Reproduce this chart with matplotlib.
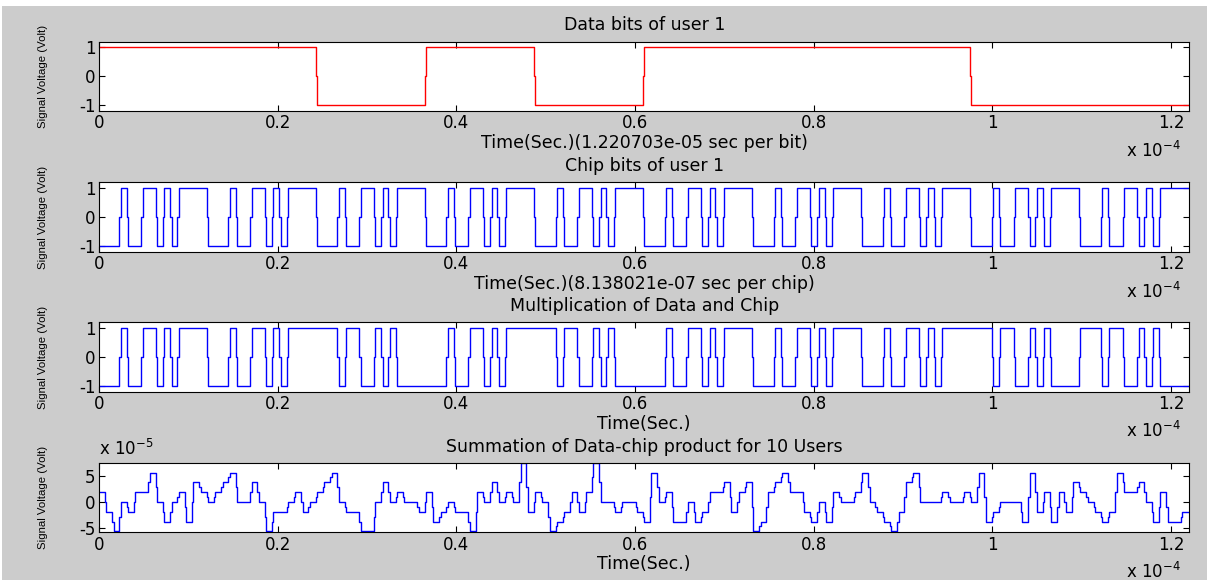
import numpy as np
import matplotlib.pyplot as plt
from matplotlib.patches import Rectangle
from matplotlib.ticker import FuncFormatter

plt.rcParams['font.family'] = ['DejaVu Sans']
plt.rcParams['mathtext.fontset'] = 'dejavusans'
plt.rcParams['axes.unicode_minus'] = False

# signal parameters
bit_time = 1.220703e-05
chip_time = 8.138021e-07
n_users = 10

data_bits = [1, 1, -1, 1, -1, 1, 1, 1, -1, -1]
pn_code = [-1, -1, -1, 1, -1, -1, 1, 1, -1, 1, -1, 1, 1, 1, 1]

# summed signal of all users, read per chip (units of sum_step)
sum_levels = [1, -1, -3, 0, -1, 1, 1, 3, 0, -2, 0, 1, -2, 2, 1, 0, 1, 2, 3, 0, 0, 2, 0, -3, -1,
              -1, 0, 1, -1, 0, 1, 2, 3, 0, -1, -1, -3, -3, 0, 2, 0, 1, 0, 0, -1, 1, -2, -1, 0, -1,
              -1, -3, 1, 0, 2, 0, 1, 0, 4, -1, 1, 0, -3, -2, -1, 1, -1, 1, 4, 0, 0, -1, 0, 0, -1,
              -2, 3, 0, 1, -2, -2, 0, -2, -1, 1, 1, 2, -1, 1, 2, -3, -2, 1, 2, 3, 1, 1, -1, -2, 0,
              -2, 1, 0, 0, 1, 3, 0, -1, -2, -3, -1, 2, 3, 0, 0, 0, 1, 0, 0, 1, 0, 3, -2, -1, 0,
              0, 0, -2, 3, -1, 1, -2, 1, -1, 2, 1, 0, -1, -2, -1, 3, 1, 1, 2, 0, -2, 1, -2, -2, -1]
sum_step = 1.9e-5

chips_per_bit = len(pn_code)
chips = np.tile(pn_code, len(data_bits))
product = chips * np.repeat(data_bits, chips_per_bit)
summation = np.array(sum_levels) * sum_step
t_end = len(data_bits) * bit_time


def stair(values, dt, jog=0.2 * chip_time):
    # step trace with a short mid-level sample at every change (as in the original plot)
    t, y = [0.0], [values[0]]
    for i in range(1, len(values)):
        tb = i * dt
        if values[i] != values[i - 1]:
            t.append(tb - jog)
            y.append((values[i] + values[i - 1]) / 2)
        t.append(tb)
        y.append(values[i])
    t.append(len(values) * dt)
    y.append(values[-1])
    return t, y


fig = plt.figure(figsize=(12.13, 5.83), dpi=100)
fig.patch.set_facecolor('white')
# grey window area of the screenshot
fig.patches.append(Rectangle((2 / 1213, 3 / 583), 1205 / 1213, 574 / 583,
                             transform=fig.transFigure, facecolor='#cccccc',
                             edgecolor='none', zorder=-10))

left, width, height = 0.0816, 0.899, 0.1192
bottoms = [0.8096, 0.568, 0.328, 0.0871]
axes = [fig.add_axes([left, b, width, height]) for b in bottoms]

rows = [
    (data_bits, bit_time, 'r', 'Data bits of user 1', 'Time(Sec.)(1.220703e-05 sec per bit)'),
    (chips, chip_time, 'b', 'Chip bits of user 1', 'Time(Sec.)(8.138021e-07 sec per chip)'),
    (product, chip_time, 'b', 'Multiplication of Data and Chip', 'Time(Sec.)'),
    (summation, chip_time, 'b', 'Summation of Data-chip product for %d Users' % n_users, 'Time(Sec.)'),
]

fs = 12.5
for i, (ax, (vals, dt, col, title, xlab)) in enumerate(zip(axes, rows)):
    t, y = stair(list(vals), dt)
    ax.step(t, y, where='post', color=col, linewidth=1.0)
    ax.set_xlim(0, t_end)
    ax.set_xticks(np.arange(0, 1.3e-4, 0.2e-4))
    ax.xaxis.set_major_formatter(FuncFormatter(lambda v, p: '%g' % round(v / 1e-4, 6)))
    if i < 3:
        ax.set_ylim(-1.2, 1.2)
        ax.set_yticks([-1, 0, 1])
    else:
        ax.set_ylim(summation.min() * 1.03, summation.max())
        ax.set_yticks([-5e-5, 0, 5e-5])
        ax.yaxis.set_major_formatter(FuncFormatter(lambda v, p: '%g' % round(v / 1e-5, 6)))
        ax.text(0.0, 1.2, r'x 10$^{-5}$', transform=ax.transAxes, ha='left', va='center', fontsize=12)
    ax.tick_params(direction='in', top=True, right=True, length=4, width=0.8,
                   labelsize=12, pad=2.5)
    ax.set_title(title, fontsize=fs, pad=8)
    ax.set_xlabel(xlab, fontsize=fs)
    ax.xaxis.set_label_coords(0.5, -0.33)
    ax.set_ylabel('Signal Voltage (Volt)', fontsize=8.2, family='Liberation Sans')
    ax.yaxis.set_label_coords(-0.047, 0.5)
    ax.text(0.992, -0.57, r'x 10$^{-4}$', transform=ax.transAxes, ha='right', va='center', fontsize=12)
    for s in ax.spines.values():
        s.set_linewidth(0.8)

fig.savefig('out.png', dpi=100, facecolor=fig.get_facecolor())
